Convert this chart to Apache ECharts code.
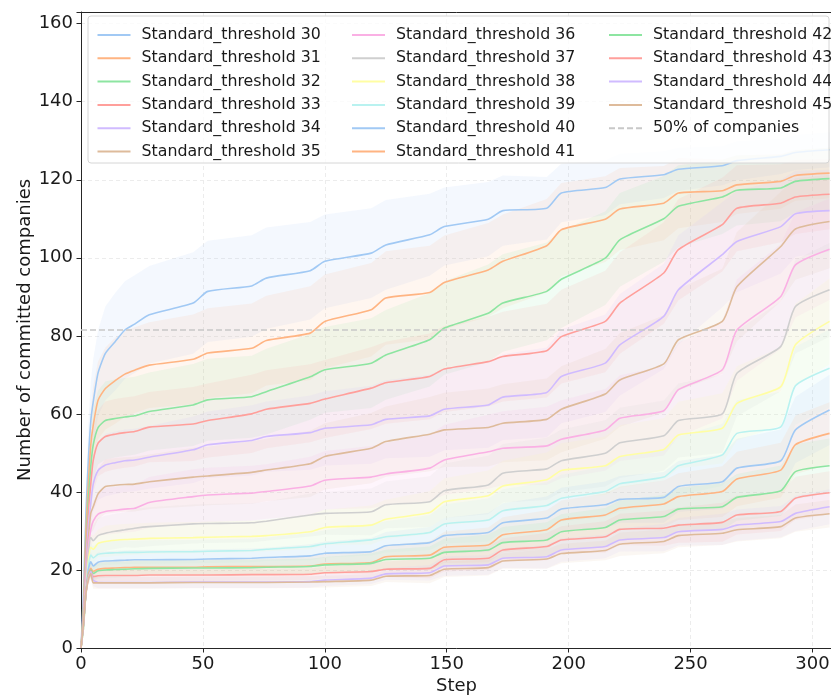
<!DOCTYPE html>
<html>
<head>
<meta charset="utf-8">
<script src="https://cdn.jsdelivr.net/npm/echarts@6/dist/echarts.min.js"></script>
<style>
  html, body { margin: 0; padding: 0; background: #ffffff; }
  #chart { width: 831px; height: 695px; }
</style>
</head>
<body>
<div id="chart"></div>
<script>
// Simulation steps at which the averaged runs are sampled
const steps = [0,1,2,3,4,5,7,10,14,18,22,28,46,52,70,76,94,100,119,125,143,149,167,173,191,197,215,221,239,245,263,269,287,293,307];

// Total number of companies and the 50% reference level
const totalCompanies = 163;
const halfCompanies = 81.5;

const thresholds = [30,31,32,33,34,35,36,37,38,39,40,41,42,43,44,45];

// Mean number of committed companies per threshold
const mean30 = [0,14,34,48,58,63,70.5,75.5,78.5,81.5,83,85.4,88.4,91.4,92.8,94.8,96.7,99.1,101.2,103.3,105.9,108.0,109.9,112.1,112.7,116.6,118.0,120.2,121.3,122.7,123.6,124.9,126.0,127.0,127.7];
const mean31 = [0,10,30,42,52,57,63.5,66.5,68.5,70.2,71.2,72.5,74.0,75.6,76.8,78.8,80.7,83.7,86.7,89.7,91.1,93.7,96.9,99.1,103.1,107.2,109.9,112.5,114.0,116.6,117.2,118.7,119.6,121.1,121.7];
const mean32 = [0,9,26,38,46.5,52,56.5,58.3,58.8,59.2,59.5,60.6,62.3,63.6,64.4,65.7,69.5,71.3,73.0,75.1,79.0,82.0,85.8,88.4,91.4,94.5,99.9,104.6,110.0,113.2,115.6,117.3,117.9,119.6,120.3];
const mean33 = [0,8,24,35,42,48,52.5,54.2,54.8,55.2,55.5,56.6,57.4,58.3,60.0,61.2,62.7,63.8,66.6,68.0,69.6,71.5,73.4,74.7,76.2,79.8,83.7,88.4,96.1,102.1,108.5,112.7,114.0,115.6,116.3];
const mean34 = [0,7,21,31,37,42,45.5,46.9,47.5,48.0,48.2,48.9,50.8,52.1,53.2,54.2,55.2,56.3,57.2,58.6,59.5,61.2,62.3,64.3,65.5,69.6,73.0,77.7,85.0,91.8,100.8,104.2,108.0,111.3,112.1];
const mean35 = [0,6,19,28,34.5,36.2,39.5,41.4,41.7,41.9,42.0,42.6,43.8,44.1,45.0,45.6,47.2,49.1,51.2,52.9,54.8,55.9,56.5,57.6,58.6,61.2,65.1,68.7,72.8,79.0,83.7,92.6,102.9,107.4,109.3];
const mean36 = [0,6,17,26,30.3,32.5,34.3,35.0,35.3,35.6,35.8,37.3,38.8,39.2,39.7,40.1,41.5,43.0,43.8,44.6,46.1,48.2,50.3,51.2,51.8,53.5,55.9,58.9,60.8,66.2,71.3,81.5,90.1,98.2,102.2];
const mean37 = [0,5,15,24,28.3,27.5,28.8,29.4,29.9,30.3,30.7,31.1,31.8,31.9,32.1,32.5,34.1,34.5,34.9,36.7,37.5,40.3,41.8,44.8,45.9,48.0,49.9,52.6,54.4,58.3,60.0,70.4,77.3,87.5,91.8];
const mean38 = [0,5,14,22,25.8,25.3,26.8,27.3,27.6,27.8,27.9,28.1,28.3,28.4,28.6,28.8,29.8,30.9,31.5,33.0,34.7,37.5,39.0,41.5,43.1,45.5,46.7,49.1,50.9,54.6,56.3,62.7,67.0,77.7,83.7];
const mean39 = [0,5,14,21,23.8,23.1,24.0,24.3,24.4,24.5,24.5,24.6,24.7,24.8,25.0,25.3,26.0,26.7,27.7,28.5,29.6,31.8,32.8,35.2,36.5,38.4,40.1,42.1,43.8,46.7,49.5,55.0,56.7,67.2,71.7];
const mean40 = [0,6,14,20,22.1,21.0,22.0,22.3,22.4,22.5,22.6,22.6,22.7,22.8,23.0,23.2,23.6,24.3,24.7,26.2,27.0,28.8,29.6,32.1,33.3,35.6,36.7,38.1,38.6,41.4,42.6,46.1,48.0,55.9,61.0];
const mean41 = [0,6,14,19,20.4,19.6,20.2,20.4,20.5,20.6,20.7,20.7,20.7,20.8,20.9,20.9,21.0,21.5,21.9,23.4,23.8,25.8,26.4,29.0,30.3,32.8,34.1,35.8,36.9,38.8,40.1,43.3,45.6,52.1,55.0];
const mean42 = [0,6,14,18.5,20.0,19.1,19.8,20.0,20.1,20.2,20.3,20.4,20.5,20.5,20.6,20.7,20.9,21.3,21.7,22.7,23.0,24.5,25.1,27.0,27.7,29.8,30.9,32.8,33.7,35.6,36.2,38.6,40.3,45.2,46.7];
const mean43 = [0,6,14,18,19.7,18.3,18.5,18.6,18.6,18.6,18.6,18.7,18.7,18.7,18.8,18.8,18.9,19.3,19.6,20.2,20.4,22.6,23.0,25.1,26.0,27.7,28.5,30.4,30.7,31.5,32.2,34.1,35.0,38.4,39.8];
const mean44 = [0,6,14,18,19.6,17.4,16.8,16.8,16.8,16.8,16.8,16.8,16.9,16.9,16.9,16.9,17.0,17.4,17.9,19.0,19.3,21.0,21.3,23.0,23.4,25.1,26.0,27.7,28.3,29.8,30.4,31.5,32.4,34.5,36.2];
const mean45 = [0,6,14,17.5,19.1,16.7,16.7,16.7,16.7,16.7,16.7,16.7,16.8,16.8,16.8,16.8,16.9,17.0,17.4,18.4,18.6,20.2,20.6,22.3,22.8,24.2,25.0,26.6,27.3,28.8,29.4,30.3,31.1,33.3,34.4];

// Standard deviation across runs per threshold
const std30 = [0,2,6,9,10,11,11,12,12.5,12.5,12.5,12.5,13,13,13,13,12.5,12,11.5,11.5,10.5,10,9.5,9,8,7.5,7,6.5,6,5.5,5,5,4.5,4.5,4.5];
const std31 = [0,2,6,8,9,10,10,10.5,11,11,11,11,11.5,11.5,11.5,11.5,12,12,12,12,12,12,12,12,12,12,11,10.5,9.5,9,8,7.5,7,6.5,6.5];
const std32 = [0,2,5,7,8,9,9.5,10,10,10,10,10,10.5,10.5,10.5,11,11,11,11.5,11.5,12,12,12.5,12.5,12.5,12.5,12,12,11,10.5,9.5,9,8.5,8,8];
const std33 = [0,2,5,6,7,8,8.5,9,9,9,9,9,9.5,9.5,10,10,10,10,10.5,10.5,11,11,11.5,11.5,12,12,13,13,13,13,12,11,10,9.5,9];
const std34 = [0,2,4,5,6,7,7.5,8,8,8,8,8,8.5,8.5,9,9,9.5,9.5,10,10,10.5,10.5,11,11,11.5,12,12.5,13,13.5,14,13.5,13,12,11,10.5];
const std35 = [0,1.5,3.5,4.5,5,6,6.5,7,7,7,7,7,7.5,7.5,8,8,8.5,8.5,9,9,9.5,9.5,10,10,10.5,11,11.5,12,12.5,13,13.5,14,14,13,12];
const std36 = [0,1.5,3,4,4.5,5,5.5,6,6,6,6,6.5,7,7,7,7,7.5,7.5,8,8,8.5,9,9.5,9.5,10,10,10.5,11,11.5,12,12.5,13,13.5,13.5,13];
const std37 = [0,1.5,3,3.5,4,4,4.5,4.5,4.5,4.5,5,5,5,5,5,5,5.5,5.5,6,6,6.5,7,7.5,7.5,8,8,8.5,9,9,9.5,10,11,11.5,12,12];
const std38 = [0,1,2.5,3,3.5,3.5,3.5,4,4,4,4,4,4,4,4,4,4.5,4.5,5,5,5.5,6,6.5,6.5,7,7,7.5,8,8,8.5,9,9.5,10,10.5,11];
const std39 = [0,1,2,2.5,3,3,3,3,3,3,3,3,3,3,3,3,3.5,3.5,4,4,4.5,5,5.5,5.5,6,6,6.5,7,7,7.5,8,8.5,9,10,10];
const std40 = [0,1,2,2.5,2.5,2.5,2.5,2.5,2.5,2.5,2.5,2.5,2.5,2.5,2.5,2.5,3,3,3.5,3.5,4,4.5,5,5,5.5,5.5,6,6,6.5,6.5,7,7.5,8,8.5,9];
const std41 = [0,1,2,2,2,2,2,2,2,2,2,2,2,2,2,2,2.5,2.5,3,3,3.5,4,4.5,4.5,5,5,5.5,5.5,6,6,6.5,7,7,7.5,8];
const std42 = [0,1,2,2,2,2,2,2,2,2,2,2,2,2,2,2,2,2,2.5,2.5,3,3.5,4,4,4.5,4.5,5,5,5.5,5.5,6,6,6.5,7,7];
const std43 = [0,1,1.5,1.5,1.5,1.5,1.5,1.5,1.5,1.5,1.5,1.5,1.5,1.5,1.5,1.5,1.5,1.5,2,2,2.5,3,3,3,3.5,3.5,4,4,4.5,4.5,5,5,5,5.5,5.5];
const std44 = [0,1,1.5,1.5,1.5,1.5,1.5,1.5,1.5,1.5,1.5,1.5,1.5,1.5,1.5,1.5,1.5,1.5,1.5,1.5,2,2.5,2.5,2.5,3,3,3,3,3.5,3.5,4,4,4,4.5,4.5];
const std45 = [0,1,1.5,1.5,1.5,1.5,1.5,1.5,1.5,1.5,1.5,1.5,1.5,1.5,1.5,1.5,1.5,1.5,1.5,1.5,2,2,2,2,2.5,2.5,2.5,3,3,3,3,3,3,3.5,3.5];

const means = [mean30,mean31,mean32,mean33,mean34,mean35,mean36,mean37,mean38,mean39,mean40,mean41,mean42,mean43,mean44,mean45];
const stds  = [std30,std31,std32,std33,std34,std35,std36,std37,std38,std39,std40,std41,std42,std43,std44,std45];

// Seaborn-style pastel palette (cycles after ten colours)
const palette = ['#a1c9f4','#ffb482','#8de5a1','#ff9f9b','#d0bbff','#debb9b','#fab0e4','#cfcfcf','#fffea3','#b9f2f0'];

const xMax = 308;
const font = 'DejaVu Sans';

function hexToRgba(hex, a) {
  const n = parseInt(hex.slice(1), 16);
  return 'rgba(' + ((n >> 16) & 255) + ',' + ((n >> 8) & 255) + ',' + (n & 255) + ',' + a + ')';
}

const series = [];
const names = thresholds.map(t => 'Standard_threshold ' + t);

thresholds.forEach((t, i) => {
  const color = palette[i % palette.length];
  const mean = means[i];
  const sd = stds[i];
  const fill = hexToRgba(color, 0.12);
  // ±1 std band, drawn as one polygon through the axis scales
  series.push({
    name: 'band-' + t, type: 'custom', silent: true, clip: true, z: 2,
    data: [[0, 0]],
    renderItem: function (params, api) {
      const upper = steps.map((s, k) => api.coord([s, mean[k] + sd[k]]));
      const lower = steps.map((s, k) => api.coord([s, Math.max(0, mean[k] - sd[k])])).reverse();
      return {
        type: 'polygon',
        shape: { points: upper.concat(lower) },
        style: { fill: fill, stroke: null }
      };
    }
  });
  // mean curve
  series.push({
    name: names[i], type: 'line',
    data: steps.map((s, k) => [s, mean[k]]),
    symbol: 'none', smooth: 0.2,
    itemStyle: { color: color },
    lineStyle: { color: color, width: 1.6 }, z: 3
  });
});

series.push({
  name: '50% of companies', type: 'line',
  data: [[0, halfCompanies], [xMax, halfCompanies]],
  symbol: 'none',
  itemStyle: { color: '#c8c8c8' },
  lineStyle: { color: '#c8c8c8', width: 1.5, type: [6, 3] }, z: 3
});

const legendBase = {
  orient: 'vertical', top: 27, padding: 0,
  itemWidth: 33, itemHeight: 14, itemGap: 7.3,
  z: 20, selectedMode: false,
  itemStyle: { opacity: 0 },
  textStyle: { fontFamily: font, fontSize: 15.8, color: '#1a1a1a', padding: [0, 0, 0, 6], lineHeight: 16 }
};

const axisText = { fontFamily: font, fontSize: 18, color: '#1a1a1a' };

const chart = echarts.init(document.getElementById('chart'), null, { renderer: 'canvas' });
chart.setOption({
  animation: false,
  backgroundColor: '#ffffff',
  grid: { left: 81, right: -1, top: 12, bottom: 47, outerBoundsMode: 'none', containLabel: false },
  xAxis: [{
    type: 'value', min: 0, max: xMax, interval: 50,
    name: 'Step', nameLocation: 'middle', nameGap: 29, nameMoveOverlap: false,
    nameTextStyle: axisText,
    axisLine: { show: true, lineStyle: { color: '#262626', width: 1 } },
    axisTick: { show: true, length: 4.5, lineStyle: { color: '#262626' } },
    axisLabel: Object.assign({ margin: 7, formatter: v => (v % 50 === 0 ? String(v) : '') }, axisText),
    splitLine: { show: true, lineStyle: { color: '#ececec', type: [4, 3], width: 1 } }
  }, {
    // top frame line
    type: 'value', position: 'top', min: 0, max: xMax,
    axisLine: { show: true, onZero: false, lineStyle: { color: '#262626', width: 1 } },
    axisTick: { show: false }, axisLabel: { show: false }, splitLine: { show: false }
  }],
  yAxis: {
    type: 'value', min: 0, max: totalCompanies, interval: 20,
    name: 'Number of committed companies', nameLocation: 'middle', nameGap: 47, nameMoveOverlap: false,
    nameTextStyle: axisText,
    axisLine: { show: true, lineStyle: { color: '#262626', width: 1 } },
    axisTick: { show: true, length: 4.5, lineStyle: { color: '#262626' } },
    axisLabel: Object.assign({ margin: 8, formatter: v => (v % 20 === 0 ? String(v) : '') }, axisText),
    splitLine: { show: true, lineStyle: { color: '#ececec', type: [4, 3], width: 1 } }
  },
  graphic: [{
    type: 'rect', z: 10, silent: true,
    shape: { x: 88, y: 16, width: 741, height: 147, r: 3 },
    style: { fill: 'rgba(255,255,255,0.8)', stroke: '#d6d6d6', lineWidth: 1 }
  }],
  legend: [
    Object.assign({}, legendBase, { left: 96.5, data: names.slice(0, 6) }),
    Object.assign({}, legendBase, { left: 351, data: names.slice(6, 12) }),
    Object.assign({}, legendBase, { left: 608, data: names.slice(12, 16).concat(['50% of companies']) })
  ],
  series: series
});
</script>
</body>
</html>
